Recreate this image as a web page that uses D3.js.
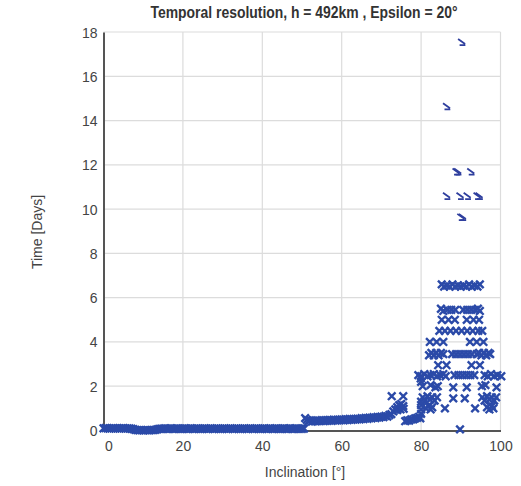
<!DOCTYPE html>
<html><head><meta charset="utf-8">
<script src="https://cdn.jsdelivr.net/npm/d3@7/dist/d3.min.js"></script>
<style>
body{margin:0;background:#fff}
text{font-family:"Liberation Sans",Arial,sans-serif}
</style></head>
<body><svg id="chart" width="521" height="486"></svg>
<script>
const chartTitle = "Temporal resolution, h = 492km , Epsilon = 20°";
const xLabel = "Inclination [°]";
const yLabel = "Time [Days]";
const xTicks = [0, 20, 40, 60, 80, 100];
const yTicks = [0, 2, 4, 6, 8, 10, 12, 14, 16, 18];

// [inclination, days]
const lowBand = [
 [0,0.10],[0.5,0.11],[1,0.10],[1.5,0.09],[2,0.10],[2.5,0.11],[3,0.10],[3.5,0.10],[4,0.09],[4.5,0.10],
 [5,0.11],[5.5,0.10],[6,0.10],[6.5,0.09],[7,0.08],[7.5,0.06],[8,0.03],[8.5,0.02],[9,0.01],[9.5,0.02],
 [10,0.01],[10.5,0.02],[11,0.02],[11.5,0.01],[12,0.02],[12.5,0.02],[13,0.03],[13.5,0.05],[14,0.07],[14.5,0.08],
 [15,0.08],[15.5,0.09],[16,0.08],[16.5,0.08],[17,0.09],[17.5,0.08],[18,0.08],[18.5,0.09],[19,0.08],[19.5,0.08],
 [20,0.08],[20.5,0.09],[21,0.08],[21.5,0.08],[22,0.09],[22.5,0.08],[23,0.08],[23.5,0.09],[24,0.08],[24.5,0.08],
 [25,0.08],[25.5,0.09],[26,0.08],[26.5,0.08],[27,0.09],[27.5,0.08],[28,0.08],[28.5,0.09],[29,0.08],[29.5,0.08],
 [30,0.08],[30.5,0.09],[31,0.08],[31.5,0.08],[32,0.09],[32.5,0.08],[33,0.08],[33.5,0.09],[34,0.08],[34.5,0.08],
 [35,0.08],[35.5,0.09],[36,0.08],[36.5,0.08],[37,0.09],[37.5,0.08],[38,0.08],[38.5,0.09],[39,0.08],[39.5,0.08],
 [40,0.08],[40.5,0.09],[41,0.08],[41.5,0.08],[42,0.09],[42.5,0.08],[43,0.08],[43.5,0.09],[44,0.08],[44.5,0.08],
 [45,0.08],[45.5,0.09],[46,0.08],[46.5,0.08],[47,0.09],[47.5,0.08],[48,0.08],[48.5,0.09],[49,0.08],[49.5,0.08],
 [50,0.08],[50.5,0.09]
];
const midBand = [
 [50.8,0.56],[51.2,0.48],[51.6,0.42],[52,0.46],[52.5,0.40],[53,0.45],[53.5,0.41],[54,0.46],[54.5,0.42],[55,0.47],
 [55.5,0.43],[56,0.47],[56.5,0.44],[57,0.48],[57.5,0.44],[58,0.49],[58.5,0.45],[59,0.49],[59.5,0.46],[60,0.50],
 [60.5,0.46],[61,0.51],[61.5,0.47],[62,0.52],[62.5,0.48],[63,0.52],[63.5,0.49],[64,0.53],[64.5,0.50],[65,0.56],
 [65.5,0.52],[66,0.57],[66.5,0.53],[67,0.58],[67.5,0.55],[68,0.60],[68.5,0.56],[69,0.61],[69.5,0.58],[70,0.63],
 [70.5,0.60],[71,0.66],[71.5,0.63],[72,0.70],[72.5,0.74],[73,0.86],[73.5,0.95],[74,1.05],[74.5,1.14],[75,1.20],
 [75.5,1.10],[74,0.92],[74.8,0.95],[75.6,0.98],
 [76,0.42],[76.5,0.46],[77,0.45],[77.5,0.50],[78,0.50],[78.5,0.55],[79,0.57],[79.5,0.62],[79.8,0.55]
];
const verticalDots = [
 [80,0.75],[80,0.95],[80,1.15],[80,1.30],[80,2.20],[79.9,2.35],[72.6,1.55],[75.5,1.55]
];
const cluster = [
 [85.2,6.60],[85.8,6.50],[86.5,6.55],[87.2,6.50],[87.9,6.60],[88.6,6.50],[89.3,6.55],[90.0,6.50],
 [90.7,6.55],[91.4,6.50],[92.1,6.60],[92.8,6.50],[93.5,6.55],[94.2,6.50],[94.8,6.60],
 [85.0,5.50],[85.6,5.40],[86.6,5.45],[87.6,5.45],[88.6,5.45],
 [90.6,5.45],[91.6,5.45],[92.6,5.45],[93.6,5.45],[94.3,5.50],[94.8,5.40],
 [85.2,5.00],[86.9,5.00],[88.5,5.00],[91.5,5.00],[93.2,5.00],[94.6,5.00],
 [84.6,4.50],[86.0,4.50],[87.4,4.50],[88.8,4.50],[90.2,4.50],[91.6,4.50],[93.0,4.50],[94.4,4.50],[95.4,4.50],
 [82.2,4.00],[83.9,4.00],[85.6,4.00],[92.3,4.00],[94.0,4.00],[95.7,4.00],
 [82.0,3.40],[82.6,3.50],[83.2,3.40],[83.8,3.50],[84.4,3.40],[85.0,3.50],[85.6,3.45],
 [87.8,3.45],[88.8,3.45],[89.8,3.45],[90.8,3.45],[91.8,3.45],[92.8,3.45],
 [94.0,3.45],[94.6,3.50],[95.2,3.40],[95.8,3.50],[96.4,3.40],[97.0,3.50],[97.4,3.45],
 [84.3,2.95],[86.4,2.95],[92.7,2.95],[94.8,2.95],
 [79.3,2.50],[80.0,2.45],[80.8,2.55],[81.6,2.45],[82.4,2.50],[83.2,2.55],[84.0,2.45],[84.8,2.50],[85.6,2.55],[86.2,2.45],
 [88.4,2.50],[89.4,2.50],[90.4,2.50],[91.4,2.50],[92.4,2.50],[93.4,2.50],
 [96.0,2.50],[96.8,2.45],[97.6,2.55],[98.4,2.45],[99.2,2.50],[100.2,2.45],
 [80.4,2.00],[82.4,2.05],[83.6,1.95],[84.2,2.00],[88.1,1.95],[91.5,1.95],[95.3,2.00],[96.2,2.05],[99.0,1.95],
 [80.4,1.50],[81.0,1.35],[81.6,1.55],[82.2,1.40],[82.8,1.50],[83.4,1.35],[84.0,1.50],
 [88.1,1.45],[91.0,1.45],
 [95.4,1.50],[96.0,1.35],[96.6,1.55],[97.2,1.40],[97.8,1.50],[98.4,1.35],[98.9,1.50],
 [81.2,1.00],[81.8,1.10],[82.4,0.95],[82.8,1.05],[86.0,1.00],[93.6,1.00],
 [96.6,1.05],[97.2,0.95],[97.8,1.10],[98.2,1.00],
 [89.8,0.05]
];
const highPoints = [
 [90.2,17.55],[86.4,14.65],[88.8,11.70],[89.2,11.70],[92.5,11.70],
 [86.4,10.60],[89.8,10.60],[91.6,10.60],[94.1,10.60],[94.6,10.60],[90.0,9.65],[90.4,9.65]
];

const m = {left: 103.5, right: 500.5, top: 32, bottom: 430.5};
const svg = d3.select("#chart");
const x = d3.scaleLinear().domain([0, 100]).range([m.left, m.right]);
const y = d3.scaleLinear().domain([0, 18]).range([m.bottom, m.top]);

// grid
const grid = svg.append("g");
grid.selectAll("line.v").data(xTicks.slice(1)).join("line")
  .attr("x1", d => x(d)).attr("x2", d => x(d)).attr("y1", m.top).attr("y2", m.bottom)
  .attr("stroke", "#dcdcdc").attr("stroke-width", 1.2);
grid.selectAll("line.h").data(yTicks.slice(1)).join("line")
  .attr("x1", m.left).attr("x2", m.right).attr("y1", d => y(d)).attr("y2", d => y(d))
  .attr("stroke", "#dcdcdc").attr("stroke-width", 1.2);

// axes
const xAxis = svg.append("g").attr("transform", `translate(0,${m.bottom})`)
  .call(d3.axisBottom(x).tickValues(xTicks).tickSize(0).tickPadding(11));
xAxis.select(".domain").attr("stroke", "#555").attr("stroke-width", 2);
xAxis.selectAll("text").attr("font-size", 14).attr("fill", "#444")
  .attr("dx", d => d === 0 ? 5 : 0);

const yAxis = svg.append("g").attr("transform", `translate(${m.left},0)`)
  .call(d3.axisLeft(y).tickValues(yTicks).tickSize(0).tickPadding(6));
yAxis.select(".domain").attr("stroke", "#555").attr("stroke-width", 2);
yAxis.selectAll("text").attr("font-size", 14).attr("fill", "#444").attr("dy", "0.36em");

// markers
const cross = "M-3.8,-3.8L3.8,3.8M-3.8,3.8L3.8,-3.8";
const color = "#2b4aa8";
const pts = lowBand.concat(midBand, verticalDots, cluster);
svg.append("g").selectAll("path").data(pts).join("path")
  .attr("d", cross)
  .attr("transform", d => `translate(${x(d[0])},${y(d[1])})`)
  .attr("fill", "none").attr("stroke", color).attr("stroke-width", 2.4);

const arrow = "M-3.5,-3L3.5,2M-2,3.2L3.8,3.2";
svg.append("g").selectAll("path").data(highPoints).join("path")
  .attr("d", arrow)
  .attr("transform", d => `translate(${x(d[0])},${y(d[1])})`)
  .attr("fill", "none").attr("stroke", "#2f3f9e").attr("stroke-width", 1.8);

// titles
svg.append("text").attr("x", 304).attr("y", 18).attr("text-anchor", "middle")
  .attr("font-size", 16).attr("font-weight", "bold").attr("fill", "#333")
  .attr("textLength", 307).attr("lengthAdjust", "spacingAndGlyphs").text(chartTitle);
svg.append("text").attr("x", 305).attr("y", 477).attr("text-anchor", "middle")
  .attr("font-size", 14).attr("fill", "#444").text(xLabel);
svg.append("text").attr("transform", "translate(42,232) rotate(-90)").attr("text-anchor", "middle")
  .attr("font-size", 14).attr("fill", "#444").text(yLabel);
</script></body></html>
